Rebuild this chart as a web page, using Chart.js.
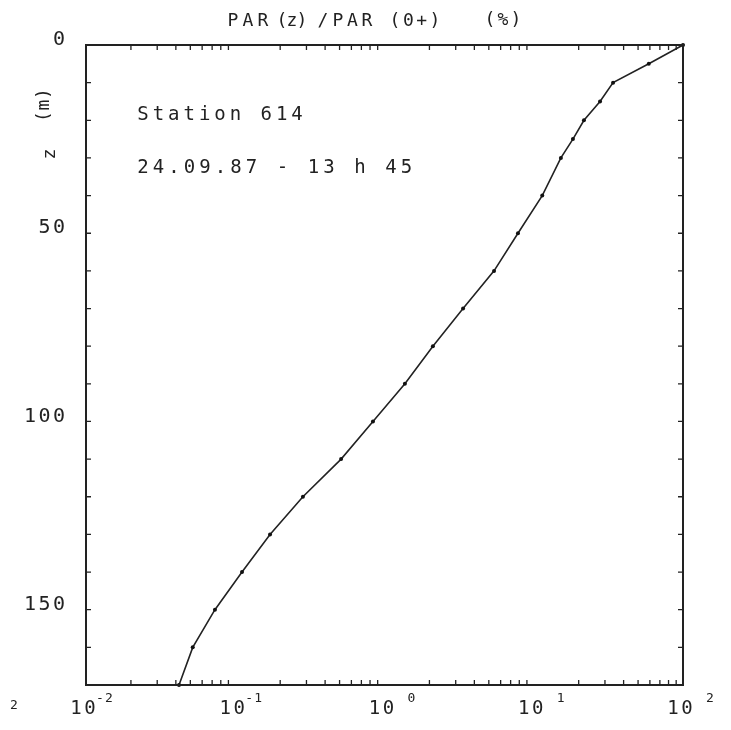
<!DOCTYPE html>
<html>
<head>
<meta charset="utf-8">
<script src="https://cdn.jsdelivr.net/npm/chart.js@4.4.0/dist/chart.umd.min.js"></script>
<style>
    html, body { margin: 0; padding: 0; background: #ffffff; }
    #wrap { width: 731px; height: 730px; }
</style>
</head>
<body>
<div id="wrap"><canvas id="myChart" width="731" height="730"></canvas></div>
<script>
// Profile data (depth in m, PAR(z)/PAR(0+) in %)
const depths = [0, 5, 10, 15, 20, 25, 30, 40, 50, 60, 70, 80, 90, 100, 110, 120, 130, 140, 150, 160, 170];
const parPercent = [100, 59, 34, 27.8, 21.7, 18.3, 15.2, 11.4, 7.84, 5.42, 3.36, 2.11, 1.37, 0.837, 0.512, 0.284, 0.171, 0.111, 0.0731, 0.0519, 0.042];

// Axis ticks / labels
const xDecades = [0.01, 0.1, 1, 10, 100];
const xExponents = ["-2", "-1", "0", "1", "2"];
const yLabelValues = [0, 50, 100, 150];
const yTickValues = [10, 20, 30, 40, 50, 60, 70, 80, 90, 100, 110, 120, 130, 140, 150, 160];

const INK = "#222222";
const FONT = "'DejaVu Sans Mono', monospace";

// draw a string one character at a time (plotter style spacing)
function spaced(ctx, text, x0, yc, adv) {
    for (let i = 0; i < text.length; i++) {
        ctx.fillText(text[i], x0 + i * adv, yc);
    }
}

// Frame, ticks and all labels, positioned with the chart's own scales
const plotterAxes = {
    id: "plotterAxes",
    afterDraw(chart) {
        const ctx = chart.ctx;
        const a = chart.chartArea;
        const xs = chart.scales.x;
        const ys = chart.scales.y;

        ctx.save();
        ctx.strokeStyle = INK;
        ctx.fillStyle = INK;

        // frame
        ctx.lineWidth = 2;
        ctx.strokeRect(a.left, a.top, a.right - a.left, a.bottom - a.top);

        // log minor ticks, top and bottom (inward)
        ctx.lineWidth = 1.3;
        ctx.beginPath();
        for (let k = 0; k < xDecades.length - 1; k++) {
            for (let m = 2; m <= 9; m++) {
                const px = xs.getPixelForValue(xDecades[k] * m);
                ctx.moveTo(px, a.top);
                ctx.lineTo(px, a.top + 5);
                ctx.moveTo(px, a.bottom);
                ctx.lineTo(px, a.bottom - 5);
            }
        }
        // depth ticks, left and right (inward)
        yTickValues.forEach(v => {
            const py = ys.getPixelForValue(v);
            ctx.moveTo(a.left, py);
            ctx.lineTo(a.left + 5, py);
            ctx.moveTo(a.right, py);
            ctx.lineTo(a.right - 5, py);
        });
        ctx.stroke();

        ctx.textAlign = "center";
        ctx.textBaseline = "middle";

        // y labels
        ctx.font = "20px " + FONT;
        yLabelValues.forEach(v => {
            const s = String(v);
            const py = ys.getPixelForValue(v) - 5;
            spaced(ctx, s, 59 - (s.length - 1) * 14.5, py, 14.5);
        });

        // x labels 10^n
        xDecades.forEach((v, i) => {
            const px = xs.getPixelForValue(v);
            const x0 = px - 17;
            ctx.font = "19px " + FONT;
            spaced(ctx, "10", x0 + 7, 709, 14);
            ctx.font = "13px " + FONT;
            const e = xExponents[i];
            if (e[0] === "-") {
                ctx.fillText("-", x0 + 31, 699);
                ctx.fillText(e[1], x0 + 40, 699);
            } else {
                ctx.fillText(e, x0 + 44, 699);
            }
        });

        // title
        ctx.font = "18px " + FONT;
        spaced(ctx, "PAR", 233, 21, 15);
        spaced(ctx, "(z)", 282, 21, 10);
        ctx.fillText("/", 323, 21);
        spaced(ctx, "PAR", 338, 21, 14.5);
        spaced(ctx, "(0+)", 395, 21, 13.3);
        spaced(ctx, "(%)", 490, 20, 13);

        // station text
        ctx.font = "19px " + FONT;
        spaced(ctx, "Station 614", 143, 115, 15.4);
        spaced(ctx, "24.09.87 - 13 h 45", 143, 168, 15.5);

        // y axis title, rotated
        ctx.font = "18px " + FONT;
        ctx.save();
        ctx.translate(50, 154);
        ctx.rotate(-Math.PI / 2);
        ctx.fillText("z", 0, 0);
        ctx.restore();
        ctx.save();
        ctx.translate(44, 105);
        ctx.rotate(-Math.PI / 2);
        spaced(ctx, "(m)", -11.5, 0, 11.5);
        ctx.restore();

        // stray mark from the neighbouring figure
        ctx.font = "13px " + FONT;
        ctx.fillText("2", 14, 706);

        ctx.restore();
    }
};

function initChart() {
    const el = document.getElementById("myChart");

    const data = {
        datasets: [
            {
                label: "PAR",
                data: depths.map((d, i) => ({ x: parPercent[i], y: d })),
                showLine: true,
                borderColor: "#222222",
                borderWidth: 1.6,
                backgroundColor: "#111111",
                pointRadius: 2,
                pointBorderWidth: 0,
                tension: 0,
                clip: false,
            },
        ],
    };

    const config = {
        type: "scatter",
        data: data,
        options: {
            responsive: false,
            animation: false,
            devicePixelRatio: 1,
            layout: {
                padding: { left: 86, right: 48, top: 45, bottom: 45 },
            },
            plugins: {
                legend: { display: false },
                tooltip: { enabled: false },
            },
            scales: {
                x: {
                    type: "logarithmic",
                    min: 0.01,
                    max: 100,
                    display: false,
                },
                y: {
                    type: "linear",
                    min: 0,
                    max: 170,
                    reverse: true,
                    display: false,
                },
            },
        },
        plugins: [plotterAxes],
    };

    return new Chart(el, config);
}

initChart();
</script>
</body>
</html>
